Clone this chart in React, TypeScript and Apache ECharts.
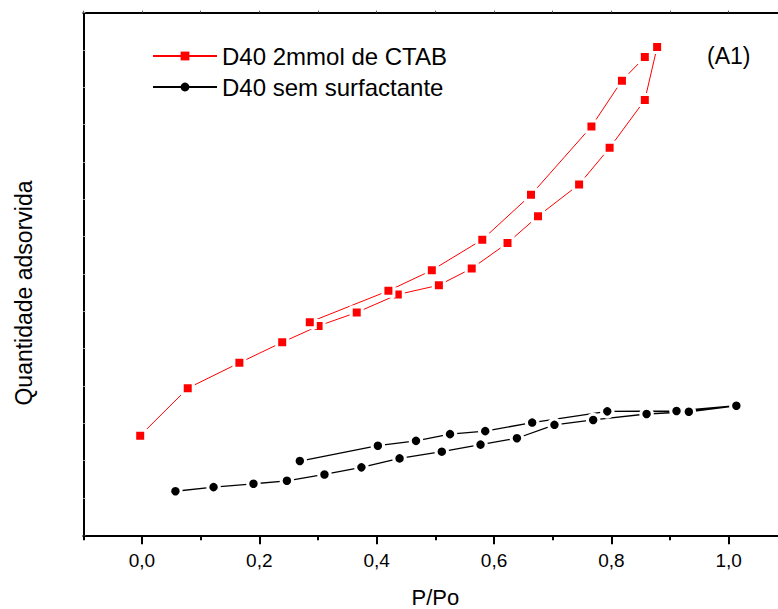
import React, { useEffect, useRef } from "react";
import * as echarts from "echarts";

// Red: D40 2mmol de CTAB (adsorption then desorption branch)
const ctabAdsX = [-0.003, 0.078, 0.166, 0.239, 0.301, 0.366, 0.436, 0.506, 0.562, 0.623, 0.675, 0.745, 0.797, 0.857, 0.878];
const ctabAdsY = [2.67, 3.94, 4.62, 5.17, 5.61, 5.97, 6.45, 6.70, 7.15, 7.83, 8.55, 9.40, 10.38, 11.66, 13.08];
const ctabDesX = [0.857, 0.818, 0.766, 0.663, 0.580, 0.494, 0.420, 0.286];
const ctabDesY = [12.81, 12.18, 10.95, 9.12, 7.92, 7.10, 6.55, 5.71];

// Black: D40 sem surfactante
const semAdsX = [0.057, 0.122, 0.190, 0.247, 0.311, 0.374, 0.439, 0.511, 0.577, 0.639, 0.703, 0.769, 0.860, 0.932, 1.013];
const semAdsY = [1.18, 1.29, 1.38, 1.46, 1.63, 1.82, 2.06, 2.24, 2.43, 2.60, 2.96, 3.09, 3.25, 3.31, 3.47];
const semDesX = [0.911, 0.793, 0.665, 0.585, 0.525, 0.467, 0.402, 0.269];
const semDesY = [3.33, 3.32, 3.02, 2.79, 2.71, 2.53, 2.40, 1.99];

const seriesNames = ["D40 2mmol de CTAB", "D40 sem surfactante"];
const majorTicks = [0, 0.2, 0.4, 0.6, 0.8, 1.0];
const minorTicks = [-0.1, 0.1, 0.3, 0.5, 0.7, 0.9, 1.1];
const allTicks = [-0.1, 0, 0.1, 0.2, 0.3, 0.4, 0.5, 0.6, 0.7, 0.8, 0.9, 1.0, 1.1];

const pairs = (xs: number[], ys: number[]) => xs.map((x, i) => [x, ys[i]]);

export default function App() {
  const ref = useRef<HTMLDivElement>(null);
  useEffect(() => {
    if (!ref.current) return;
    const chart = echarts.init(ref.current, null, { renderer: "svg" });
    const font = "Liberation Sans, Arial, sans-serif";
    const xBase = {
      type: "value" as const,
      min: -0.1,
      max: 1.1,
      splitLine: { show: false },
    };
    chart.setOption({
      animation: false,
      backgroundColor: "#ffffff",
      grid: { left: 83.3, top: 12.7, right: -9.4, bottom: 73.7, containLabel: false, outerBoundsMode: "none" },
      legend: {
        data: seriesNames,
        orient: "vertical",
        left: 152,
        top: 43,
        padding: 0,
        itemWidth: 64,
        itemHeight: 11,
        itemGap: 5,
        itemStyle: { borderWidth: 0 },
        textStyle: { fontSize: 24, fontFamily: font, color: "#000", lineHeight: 26 },
      },
      xAxis: [
        {
          ...xBase,
          position: "bottom",
          name: "P/Po",
          nameLocation: "middle",
          nameGap: 51,
          nameTextStyle: { fontSize: 22, fontFamily: font, color: "#000" },
          axisLine: { show: true, onZero: false, lineStyle: { color: "#000", width: 2 } },
          axisTick: { show: true, inside: false, length: 9, customValues: majorTicks, lineStyle: { color: "#000", width: 2 } },
          axisLabel: {
            show: true,
            customValues: majorTicks,
            margin: 16,
            fontSize: 19,
            fontFamily: font,
            color: "#000",
            formatter: (v: number) => v.toFixed(1).replace(".", ","),
          },
        },
        {
          ...xBase,
          position: "bottom",
          axisLine: { show: false, onZero: false },
          axisTick: { show: true, inside: false, length: 5, customValues: minorTicks, lineStyle: { color: "#000", width: 2 } },
          axisLabel: { show: false },
        },
        {
          ...xBase,
          position: "top",
          axisLine: { show: true, onZero: false, lineStyle: { color: "#000", width: 2 } },
          axisTick: { show: true, inside: false, length: 2, customValues: allTicks, lineStyle: { color: "#555", width: 1 } },
          axisLabel: { show: false },
        },
      ],
      yAxis: {
        type: "value",
        min: 0,
        max: 14,
        interval: 1,
        position: "left",
        name: "Quantidade adsorvida",
        nameLocation: "middle",
        nameGap: 48,
        nameTextStyle: { fontSize: 23, fontFamily: font, color: "#000", padding: [0, 38, 0, 0] },
        axisLine: { show: true, onZero: false, lineStyle: { color: "#000", width: 2 } },
        axisTick: { show: true, inside: true, length: 2, lineStyle: { color: "#aaa", width: 1 } },
        axisLabel: { show: false },
        splitLine: { show: false },
      },
      graphic: [
        {
          type: "text",
          left: 707,
          top: 44,
          style: { text: "(A1)", fontSize: 23, fontFamily: font, fill: "#000" },
        },
      ],
      series: [
        {
          name: seriesNames[0],
          type: "line",
          xAxisIndex: 0,
          data: [...pairs(ctabAdsX, ctabAdsY), ...pairs(ctabDesX, ctabDesY)],
          symbol: "rect",
          symbolSize: 11,
          itemStyle: { color: "#ff0000", borderColor: "#ffffff", borderWidth: 3 },
          lineStyle: { color: "#ff0000", width: 1 },
          z: 3,
        },
        {
          name: seriesNames[1],
          type: "line",
          xAxisIndex: 0,
          data: [...pairs(semAdsX, semAdsY), ...pairs(semDesX, semDesY)],
          symbol: "circle",
          symbolSize: 11.5,
          itemStyle: { color: "#000000", borderColor: "#ffffff", borderWidth: 3 },
          lineStyle: { color: "#000000", width: 1.3 },
          z: 3,
        },
      ],
    });
    return () => chart.dispose();
  }, []);
  return (
    <div
      ref={ref}
      style={{ position: "fixed", left: 0, top: 0, width: 778, height: 609, background: "#fff" }}
    />
  );
}
